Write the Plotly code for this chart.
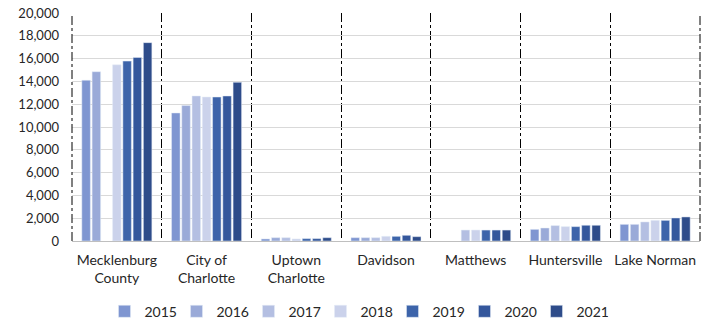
import plotly.graph_objects as go

areas = [
    "Mecklenburg<br>County",
    "City of<br>Charlotte",
    "Uptown<br>Charlotte",
    "Davidson",
    "Matthews",
    "Huntersville",
    "Lake Norman",
]
years = ["2015", "2016", "2017", "2018", "2019", "2020", "2021"]

# values per year, one entry per area (None = no data)
v2015 = [14100, 11230, 180, 290, None, 1020, 1460]
v2016 = [14850, 11880, 290, 290, None, 1140, 1460]
v2017 = [None, 12720, 290, 290, 960, 1350, 1670]
v2018 = [15450, 12630, 180, 410, 960, 1260, 1810]
v2019 = [15780, 12630, 210, 410, 960, 1260, 1810]
v2020 = [16100, 12720, 210, 500, 960, 1380, 2020]
v2021 = [17400, 13920, 290, 380, 960, 1380, 2110]
series = [v2015, v2016, v2017, v2018, v2019, v2020, v2021]

colors = ["#7F96D1", "#9AAAD8", "#B4BFE2", "#CBD2EB", "#3D64AA", "#34579C", "#2E4C8A"]

fig = go.Figure()
for year, values, color in zip(years, series, colors):
    fig.add_trace(go.Bar(x=areas, y=values, name=year, marker_color=color))

fig.update_layout(
    width=713,
    height=324,
    barmode="group",
    bargap=0.2,
    bargroupgap=0.17,
    plot_bgcolor="white",
    paper_bgcolor="white",
    margin=dict(l=72, r=13, t=13, b=83, autoexpand=False),
    font=dict(family="Lato, Open Sans, sans-serif", size=13, color="#262626"),
    legend=dict(
        orientation="h",
        xref="container",
        x=0.5,
        xanchor="center",
        yref="container",
        y=0.038,
        yanchor="middle",
        font=dict(size=14),
        entrywidth=27,
        entrywidthmode="pixels",
    ),
)
fig.update_yaxes(
    range=[0, 20000],
    dtick=2000,
    tickformat=",d",
    showgrid=True,
    gridcolor="#D9D9D9",
    gridwidth=1,
    zeroline=False,
    ticks="",
    automargin=False,
    ticklabelstandoff=12,
)
fig.update_xaxes(
    tickson="boundaries",
    showgrid=True,
    griddash="dashdot",
    gridcolor="#000000",
    gridwidth=1,
    showline=True,
    linecolor="#BFBFBF",
    ticks="",
    automargin=False,
    ticklabelstandoff=6,
    tickfont=dict(size=14),
)

# dash-dot frame lines at the left and right edges of the plot area
for edge in (0, 1):
    fig.add_shape(
        type="line",
        xref="x domain",
        yref="y domain",
        x0=edge,
        x1=edge,
        y0=0,
        y1=1,
        line=dict(color="#000000", width=1, dash="dashdot"),
    )

# drop the default 8px body margin so the figure sits at the page corner
fig.write_html(
    "out.html",
    config={"displayModeBar": False},
    post_script="document.body.style.margin = '0';",
)
